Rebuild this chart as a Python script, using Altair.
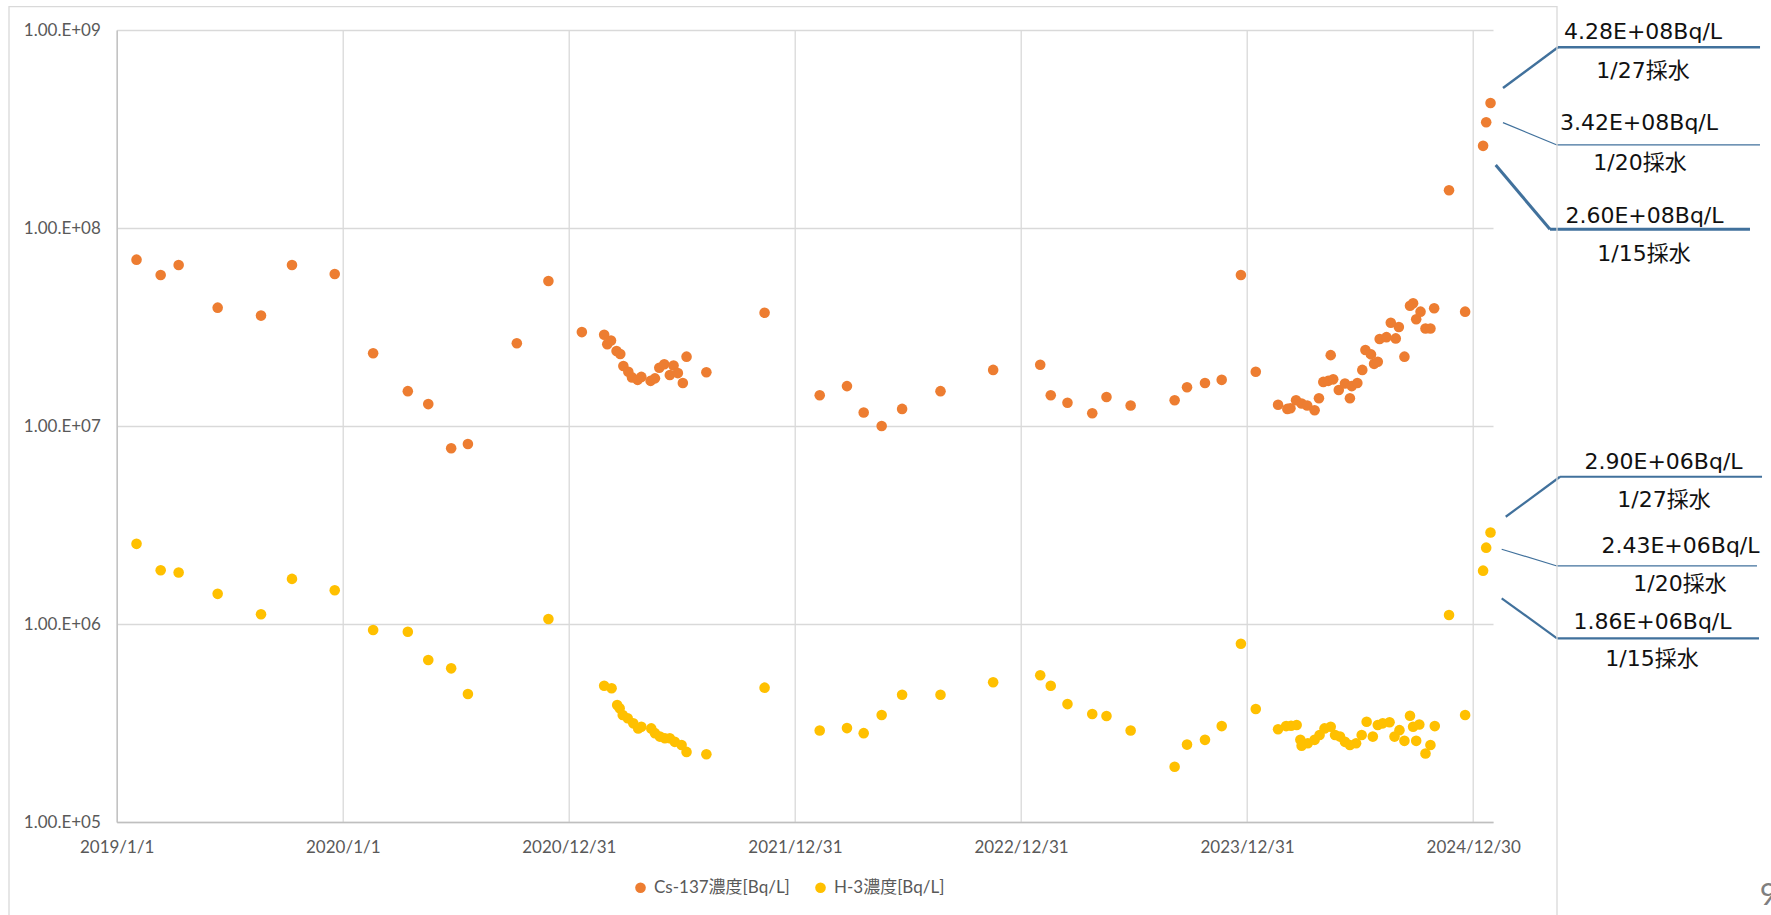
import altair as alt
import pandas as pd

CS_NAME = "Cs-137濃度[Bq/L]"
H3_NAME = "H-3濃度[Bq/L]"

# Cs-137 concentration by sampling date [Bq/L]
cs_dates = [
    "2019-02-02", "2019-03-13", "2019-04-11", "2019-06-13", "2019-08-22", "2019-10-11", "2019-12-19",
    "2020-02-19", "2020-04-15", "2020-05-18", "2020-06-24", "2020-07-21", "2020-10-08", "2020-11-28",
    "2021-01-21", "2021-02-26", "2021-03-03", "2021-03-09", "2021-03-18", "2021-03-24", "2021-03-29",
    "2021-04-06", "2021-04-12", "2021-04-21", "2021-04-27", "2021-05-12", "2021-05-19", "2021-05-26",
    "2021-06-03", "2021-06-12", "2021-06-18", "2021-06-25", "2021-07-03", "2021-07-09", "2021-08-10",
    "2021-11-12", "2022-02-09", "2022-03-25", "2022-04-21", "2022-05-20", "2022-06-22", "2022-08-23",
    "2022-11-16", "2023-01-31", "2023-02-17", "2023-03-16", "2023-04-25", "2023-05-18", "2023-06-26",
    "2023-09-05", "2023-09-25", "2023-10-24", "2023-11-20", "2023-12-21", "2024-01-14",
    "2024-02-19", "2024-03-05", "2024-03-10", "2024-03-19", "2024-03-28", "2024-04-06", "2024-04-18",
    "2024-04-25", "2024-05-02", "2024-05-10", "2024-05-14", "2024-05-18", "2024-05-27", "2024-06-06",
    "2024-06-14", "2024-06-17", "2024-06-26", "2024-07-04", "2024-07-09", "2024-07-18", "2024-07-23",
    "2024-07-29", "2024-08-01", "2024-08-12", "2024-08-19", "2024-08-27", "2024-09-01", "2024-09-10",
    "2024-09-19", "2024-09-24", "2024-09-29", "2024-10-06", "2024-10-14", "2024-10-22", "2024-10-28",
    "2024-11-21", "2024-12-17", "2025-01-15", "2025-01-20", "2025-01-27",
]
cs_values = [
    6.92e7, 5.79e7, 6.50e7, 3.96e7, 3.61e7, 6.50e7, 5.86e7,
    2.33e7, 1.50e7, 1.29e7, 7.72e6, 8.11e6, 2.62e7, 5.40e7,
    2.98e7, 2.89e7, 2.59e7, 2.70e7, 2.39e7, 2.31e7, 2.01e7,
    1.88e7, 1.76e7, 1.71e7, 1.77e7, 1.69e7, 1.74e7, 1.97e7,
    2.05e7, 1.81e7, 2.02e7, 1.85e7, 1.65e7, 2.24e7, 1.87e7,
    3.73e7, 1.43e7, 1.59e7, 1.17e7, 1.00e7, 1.22e7, 1.50e7,
    1.92e7, 2.04e7, 1.43e7, 1.31e7, 1.16e7, 1.40e7, 1.27e7,
    1.35e7, 1.57e7, 1.65e7, 1.71e7, 5.79e7, 1.88e7,
    1.28e7, 1.22e7, 1.23e7, 1.35e7, 1.30e7, 1.27e7, 1.20e7,
    1.38e7, 1.67e7, 1.69e7, 2.28e7, 1.72e7, 1.52e7, 1.64e7,
    1.38e7, 1.59e7, 1.65e7, 1.92e7, 2.42e7, 2.30e7, 2.06e7,
    2.11e7, 2.75e7, 2.81e7, 3.32e7, 2.77e7, 3.16e7, 2.24e7,
    4.05e7, 4.17e7, 3.46e7, 3.78e7, 3.11e7, 3.11e7, 3.93e7,
    1.55e8, 3.78e7, 2.60e8, 3.42e8, 4.28e8,
]

# H-3 concentration by sampling date [Bq/L]
h3_dates = [
    "2019-02-02", "2019-03-13", "2019-04-11", "2019-06-13", "2019-08-22", "2019-10-11", "2019-12-19",
    "2020-02-19", "2020-04-15", "2020-05-18", "2020-06-24", "2020-07-21", "2020-11-28",
    "2021-02-26", "2021-03-10", "2021-03-19", "2021-03-23", "2021-03-28", "2021-04-05", "2021-04-14",
    "2021-04-22", "2021-04-27", "2021-05-13", "2021-05-19", "2021-05-27", "2021-06-04", "2021-06-12",
    "2021-06-20", "2021-07-01", "2021-07-09", "2021-08-10",
    "2021-11-12", "2022-02-09", "2022-03-25", "2022-04-21", "2022-05-20", "2022-06-22", "2022-08-23",
    "2022-11-16", "2023-01-31", "2023-02-17", "2023-03-16", "2023-04-25", "2023-05-18", "2023-06-26",
    "2023-09-05", "2023-09-25", "2023-10-24", "2023-11-20", "2023-12-21", "2024-01-14",
    "2024-02-19", "2024-03-03", "2024-03-11", "2024-03-20", "2024-03-26", "2024-03-28", "2024-04-07",
    "2024-04-18", "2024-04-26", "2024-05-04", "2024-05-14", "2024-05-21", "2024-05-29", "2024-06-06",
    "2024-06-14", "2024-06-24", "2024-07-03", "2024-07-11", "2024-07-21", "2024-07-29", "2024-08-06",
    "2024-08-17", "2024-08-25", "2024-09-02", "2024-09-10", "2024-09-19", "2024-09-24", "2024-09-29",
    "2024-10-04", "2024-10-14", "2024-10-22", "2024-10-29",
    "2024-11-21", "2024-12-17", "2025-01-15", "2025-01-20", "2025-01-27",
]
h3_values = [
    2.54e6, 1.87e6, 1.82e6, 1.42e6, 1.12e6, 1.69e6, 1.48e6,
    9.33e5, 9.14e5, 6.58e5, 5.97e5, 4.43e5, 1.06e6,
    4.88e5, 4.74e5, 3.90e5, 3.75e5, 3.47e5, 3.34e5, 3.15e5,
    2.97e5, 3.03e5, 2.97e5, 2.81e5, 2.70e5, 2.65e5, 2.65e5,
    2.54e5, 2.45e5, 2.26e5, 2.20e5,
    4.77e5, 2.90e5, 2.98e5, 2.81e5, 3.47e5, 4.39e5, 4.39e5,
    5.08e5, 5.51e5, 4.88e5, 3.94e5, 3.51e5, 3.43e5, 2.90e5,
    1.90e5, 2.46e5, 2.60e5, 3.05e5, 7.95e5, 3.72e5,
    2.94e5, 3.05e5, 3.06e5, 3.09e5, 2.60e5, 2.43e5, 2.50e5,
    2.60e5, 2.75e5, 2.97e5, 3.03e5, 2.75e5, 2.70e5, 2.54e5,
    2.45e5, 2.50e5, 2.75e5, 3.21e5, 2.70e5, 3.09e5, 3.15e5,
    3.19e5, 2.70e5, 2.91e5, 2.57e5, 3.44e5, 3.03e5, 2.57e5,
    3.11e5, 2.22e5, 2.45e5, 3.05e5,
    1.11e6, 3.47e5, 1.86e6, 2.43e6, 2.90e6,
]

# Axis ticks
x_ticks = ["2019-01-01", "2020-01-01", "2020-12-31", "2021-12-31",
           "2022-12-31", "2023-12-31", "2024-12-30"]
x_domain = ["2019-01-01", "2025-01-31"]
y_ticks = [1e5, 1e6, 1e7, 1e8, 1e9]

AXIS_FONT = "Lato, 'Noto Sans CJK JP', sans-serif"
NOTE_FONT = "'DejaVu Sans', 'Noto Sans CJK JP', sans-serif"
GRAY_TEXT = "#595959"
CALLOUT_COLOR = "#41719C"


def utc(day):
    y, m, d = (int(p) for p in day.split("-"))
    return alt.DateTime(year=y, month=m, date=d, utc=True)


points = pd.concat([
    pd.DataFrame({"date": cs_dates, "value": cs_values, "series": CS_NAME}),
    pd.DataFrame({"date": h3_dates, "value": h3_values, "series": H3_NAME}),
], ignore_index=True)

x_scale = alt.Scale(type="utc", domain=[utc(d) for d in x_domain])
y_scale = alt.Scale(type="log", domain=[1e5, 1e9])

# One axis definition per channel, shared by every layer so they merge cleanly
x_axis = alt.Axis(
    values=[utc(d) for d in x_ticks],
    labelExpr="utcFormat(datum.value, '%Y/%-m/%-d')",
    title=None, grid=True, ticks=False, tickSize=0, labelPadding=17.5,
    labelFlush=False, labelOverlap=False,
)
y_axis = alt.Axis(
    values=y_ticks, labelExpr="'1.00.E+0' + round(log(datum.value) / LN10)",
    title=None, grid=True, ticks=False, tickSize=0, labelPadding=16.4,
    labelOverlap=False,
)
X = alt.X("date:T", scale=x_scale, axis=x_axis)
Y = alt.Y("value:Q", scale=y_scale, axis=y_axis)

scatter = alt.Chart(points).mark_circle(size=112, opacity=1).encode(
    x=X,
    y=Y,
    color=alt.Color(
        "series:N",
        scale=alt.Scale(domain=[CS_NAME, H3_NAME], range=["#ED7D31", "#FFC000"]),
        legend=alt.Legend(
            title=None, orient="none", legendX=515.3, legendY=849, direction="horizontal",
            columns=2, columnPadding=22, labelOffset=5, padding=0,
            symbolType="circle", symbolSize=113, symbolStrokeWidth=0,
            labelFont=AXIS_FONT, labelFontSize=17, labelColor=GRAY_TEXT,
        ),
    ),
)

# Callouts for the three latest samples of each series:
# connector start/end and underline end (pixel offsets from the point),
# line width, value-label offset, date-label offset
callout_layout = {
    CS_NAME: [
        ((12.6, 19.2), (66.9, 83.5), (266.9, 83.5), 3.0, (161.4, 70.2), (160.9, 108.2)),
        ((16.8, 0.4), (70.8, 22.7), (273.8, 22.7), 1.2, (152.8, 0.4), (153.8, 40.7)),
        ((12.5, -15.0), (67.5, -55.7), (269.5, -55.7), 2.5, (152.5, -71.0), (152.5, -32.0)),
    ],
    H3_NAME: [
        ((18.6, 27.7), (73.9, 67.7), (275.9, 67.7), 2.2, (169.4, 51.1), (168.9, 88.4)),
        ((15.5, 1.6), (70.8, 18.3), (270.8, 18.3), 1.2, (194.3, -1.7), (193.8, 36.3)),
        ((15.2, -15.7), (69.5, -55.7), (271.5, -55.7), 2.2, (173.0, -70.7), (173.5, -32.4)),
    ],
}
series_data = {CS_NAME: (cs_dates, cs_values), H3_NAME: (h3_dates, h3_values)}

layers = [scatter]
for name, layout in callout_layout.items():
    dates, values = series_data[name]
    for (start, knee, end, width, val_off, date_off), day, val in zip(layout, dates[-3:], values[-3:]):
        _, m, d = (int(p) for p in day.split("-"))
        row = pd.DataFrame({
            "date": [day], "value": [val],
            "amount": [f"{val:.2E}Bq/L"], "sampled": [f"{m}/{d}採水"],
        })
        seg = dict(x=X, y=Y, x2=alt.X2("date"), y2=alt.Y2("value"))
        base = alt.Chart(row)
        layers.append(base.mark_rule(
            color=CALLOUT_COLOR, strokeWidth=width,
            xOffset=start[0], yOffset=start[1], x2Offset=knee[0], y2Offset=knee[1],
        ).encode(**seg))
        layers.append(base.mark_rule(
            color=CALLOUT_COLOR, strokeWidth=width,
            xOffset=knee[0], yOffset=knee[1], x2Offset=end[0], y2Offset=end[1],
        ).encode(**seg))
        layers.append(base.mark_text(
            dx=val_off[0], dy=val_off[1], align="center", baseline="middle",
            font=NOTE_FONT, fontSize=22, color="#111111",
        ).encode(x=X, y=Y, text="amount:N"))
        layers.append(base.mark_text(
            dx=date_off[0], dy=date_off[1], align="center", baseline="middle",
            font=NOTE_FONT, fontSize=22, color="#111111",
        ).encode(x=X, y=Y, text="sampled:N"))

# Chart frame and page number
one_row = pd.DataFrame({"k": [0]})
frame = alt.Chart(one_row).mark_rect(
    fillOpacity=0, stroke="#d9d9d9", strokeWidth=1.3
).encode(
    x=alt.value(-107.7), x2=alt.value(1440.3), y=alt.value(-23.3), y2=alt.value(900),
)
page_no = alt.Chart(one_row).mark_text(
    align="left", baseline="middle", font=AXIS_FONT, fontSize=30, color="#7f7f7f"
).encode(x=alt.value(1643), y=alt.value(866), text=alt.value("9"))

chart = alt.layer(*layers, frame, page_no).properties(
    width=1376.3,
    height=792,
    padding={"left": 116.7, "top": 30, "right": 278, "bottom": 93},
    autosize=alt.AutoSizeParams(type="none"),
    background="white",
).configure_view(
    strokeWidth=0
).configure_axis(
    labelFont=AXIS_FONT, labelFontSize=17, labelColor=GRAY_TEXT,
    gridColor="#d9d9d9", gridWidth=1.3,
    domainColor="#bfbfbf", domainWidth=1.3,
)

chart.save("out.html", embed_options={"renderer": "svg", "actions": False})
